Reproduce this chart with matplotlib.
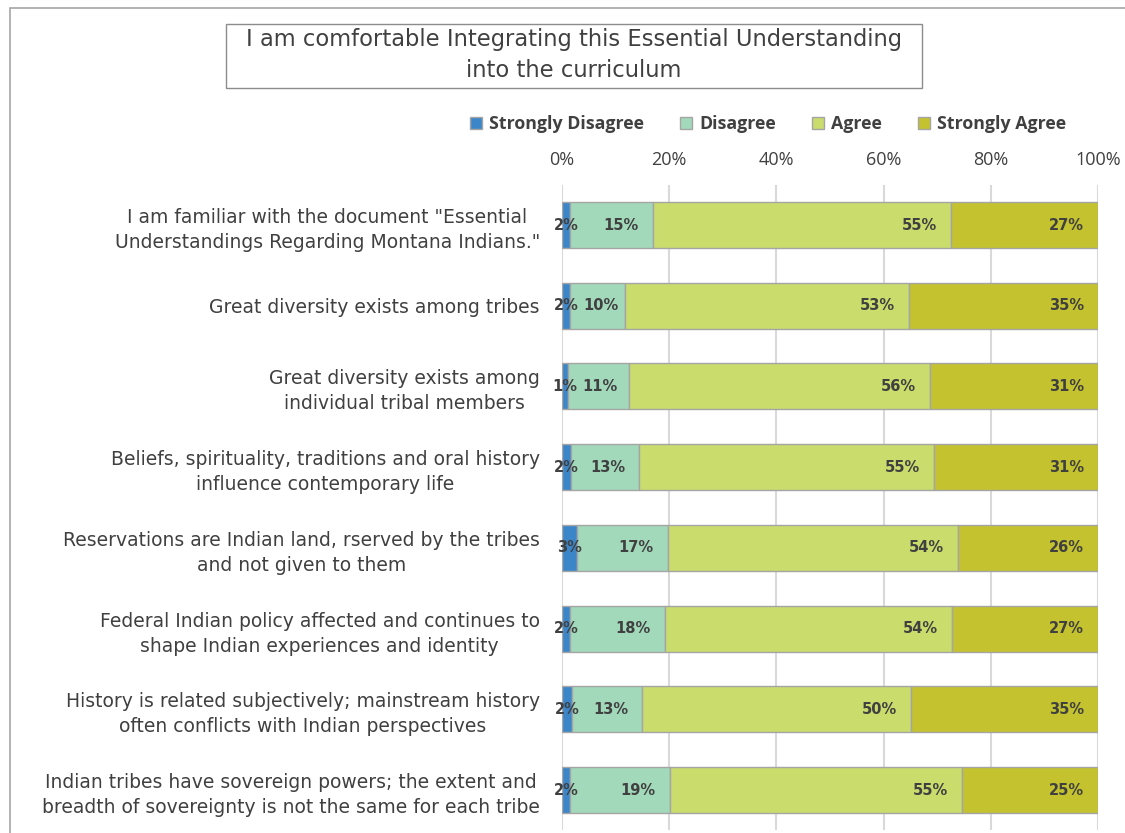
import numpy as np
import matplotlib.pyplot as plt
from matplotlib.patches import Rectangle

# survey statements, top to bottom
statements = [
    'I am familiar with the document "Essential\nUnderstandings Regarding Montana Indians."',
    "Great diversity exists among tribes",
    "Great diversity exists among\nindividual tribal members",
    "Beliefs, spirituality, traditions and oral history\ninfluence contemporary life",
    "Reservations are Indian land, rserved by the tribes\nand not given to them",
    "Federal Indian policy affected and continues to\nshape Indian experiences and identity",
    "History is related subjectively; mainstream history\noften conflicts with Indian perspectives",
    "Indian tribes have sovereign powers; the extent and\nbreadth of sovereignty is not the same for each tribe",
]

responses = ["Strongly Disagree", "Disagree", "Agree", "Strongly Agree"]

# percent of respondents
strongly_disagree = [1.5, 1.5, 1.2, 1.6, 2.8, 1.5, 1.9, 1.5]
disagree = [15.4, 10.2, 11.3, 12.8, 16.9, 17.7, 13.0, 18.6]
agree = [55.4, 53.0, 56.2, 55.2, 54.1, 53.8, 50.2, 54.6]
strongly_agree = [27.4, 35.3, 31.3, 30.6, 26.2, 27.3, 34.9, 25.3]

colors = ["#3a86c8", "#a2d9bb", "#c9dc6c", "#c4c22e"]
text_color = "#404040"

plt.rcParams["font.family"] = ["DejaVu Sans"]

fig = plt.figure(figsize=(11.25, 8.33), dpi=100)
fig.patch.set_facecolor("white")

# outer chart frame (runs off the right and bottom edges)
fig.patches.append(
    Rectangle((10 / 1125, -0.2), 1.5, 1.2 - 8 / 833, transform=fig.transFigure,
              fill=False, edgecolor="#a6a6a6", linewidth=1.2)
)

ax = fig.add_axes([562 / 1125, 2.6 / 833, 536 / 1125, 645.7 / 833])

series = np.array([strongly_disagree, disagree, agree, strongly_agree])
shares = series / series.sum(axis=0) * 100
y = np.arange(len(statements))

labels = [[None] * len(statements) for _ in responses]
left = np.zeros(len(statements))
for i, name in enumerate(responses):
    ax.barh(y, shares[i], left=left, height=0.57, color=colors[i],
            edgecolor="#a5a5a5", linewidth=1, label=name, zorder=3)
    for j in range(len(statements)):
        label = f"{round(series[i][j]):d}%"
        if i == 0:
            labels[i][j] = ax.annotate(label, (left[j] + shares[i][j] / 2, y[j]),
                                       ha="center", va="center", fontsize=10.5,
                                       fontweight="bold", color=text_color, zorder=4)
        else:
            labels[i][j] = ax.annotate(label, (left[j] + shares[i][j], y[j]), xytext=(-10, 0),
                                       textcoords="offset points", ha="right", va="center",
                                       fontsize=10.5, fontweight="bold", color=text_color,
                                       zorder=4)
    left += shares[i]

ax.set_xlim(0, 100)
ax.set_ylim(len(statements) - 0.5, -0.5)
ax.xaxis.tick_top()
ax.set_xticks(np.arange(0, 101, 20))
ax.set_xticklabels([f"{v}%" for v in range(0, 101, 20)], family=["Open Sans", "DejaVu Sans"])
ax.tick_params(axis="x", length=0, pad=11, labelsize=13, labelcolor=text_color)
ax.set_yticks(y)
ax.set_yticklabels(statements, multialignment="center", linespacing=1.4)
ax.tick_params(axis="y", length=0, pad=16, labelsize=13.5, labelcolor=text_color)
ax.grid(axis="x", color="#d9d9d9", linewidth=1.5, zorder=0)
for s in ax.spines.values():
    s.set_visible(False)

# title in a box
fig.patches.append(
    Rectangle((226 / 1125, 745 / 833), 696 / 1125, 64 / 833, transform=fig.transFigure,
              fill=False, edgecolor="#8c8c8c", linewidth=1)
)
fig.text(574 / 1125, 778 / 833,
         "I am comfortable Integrating this Essential Understanding\ninto the curriculum",
         ha="center", va="center", fontsize=16.3, color=text_color, linespacing=1.45)

leg = fig.legend(loc="center", bbox_to_anchor=(768 / 1125, 709 / 833), ncol=4,
                 frameon=False, handlelength=0.7, handleheight=0.7, handletextpad=0.4,
                 columnspacing=2.0,
                 prop={"family": ["Open Sans", "DejaVu Sans"], "weight": "bold", "size": 12.8})
for t in leg.get_texts():
    t.set_color(text_color)

# nudge a Disagree label right if it runs into the small Strongly Disagree label
fig.canvas.draw()
renderer = fig.canvas.get_renderer()
for j in range(len(statements)):
    sd_box = labels[0][j].get_window_extent(renderer)
    d_box = labels[1][j].get_window_extent(renderer)
    gap = d_box.x0 - sd_box.x1
    if gap < 5:
        shift = (5 - gap) * 72 / fig.dpi
        labels[1][j].xyann = (-10 + shift, 0)

fig.savefig("out.png", dpi=100)
